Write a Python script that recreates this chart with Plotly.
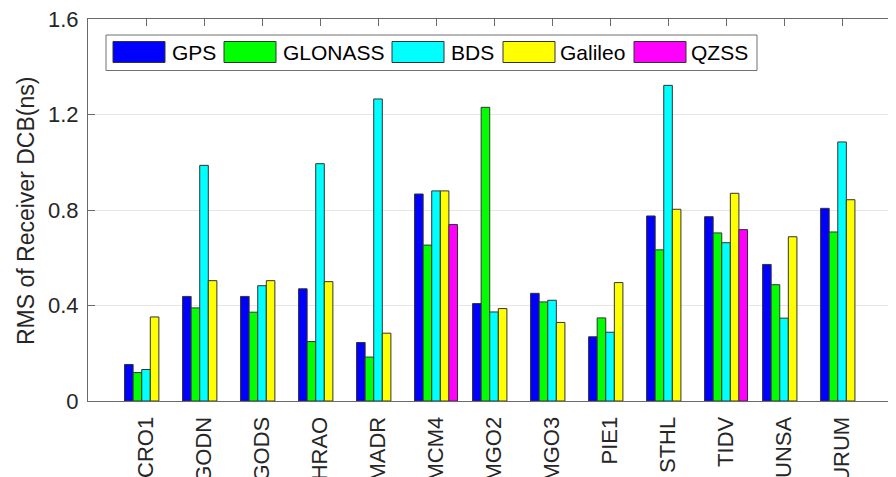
import plotly.graph_objects as go

stations = ["CRO1", "GODN", "GODS", "HRAO", "MADR", "MCM4", "MGO2", "MGO3",
            "PIE1", "STHL", "TIDV", "UNSA", "URUM"]
gps = [0.153, 0.438, 0.438, 0.470, 0.245, 0.867, 0.408, 0.451, 0.269, 0.775, 0.772, 0.572, 0.807]
glonass = [0.119, 0.390, 0.372, 0.249, 0.184, 0.653, 1.230, 0.415, 0.348, 0.633, 0.704, 0.487, 0.708]
bds = [0.132, 0.987, 0.483, 0.994, 1.265, 0.880, 0.373, 0.422, 0.288, 1.322, 0.663, 0.347, 1.085]
galileo = [0.352, 0.504, 0.504, 0.500, 0.284, 0.880, 0.387, 0.329, 0.496, 0.803, 0.870, 0.688, 0.843]
qzss = [None, None, None, None, None, 0.739, None, None, None, None, 0.718, None, None]

series_names = ["GPS", "GLONASS", "BDS", "Galileo", "QZSS"]
series_values = [gps, glonass, bds, galileo, qzss]
series_colors = ["#0000FF", "#00FF00", "#00FFFF", "#FFFF00", "#FF00FF"]

y_ticks = [0, 0.4, 0.8, 1.2, 1.6]
y_ticklabels = ["0", "0.4", "0.8", "1.2", "1.6"]

# page body has an 8px margin; compensate so the figure fills the window
OFF = 8
W, H = 896 - OFF, 477 - OFF
ML, MR, MT, MB = 88 - OFF, 0, 19 - OFF, 76
PW = W - ML - MR
PH = H - MT - MB


def px_x(px):
    # px in window coordinates
    return (px - OFF - ML) / PW


def px_y(py):
    return (H - MB - (py - OFF)) / PH


FONT = "Liberation Sans, Arial, Helvetica, sans-serif"

fig = go.Figure()
for name, vals, col in zip(series_names, series_values, series_colors):
    fig.add_trace(go.Bar(
        x=stations, y=vals, name=name,
        marker=dict(color=col, line=dict(color="#333333", width=1)),
        showlegend=False,
    ))

# custom legend (MATLAB style)
shapes = []
annotations = []
shapes.append(dict(type="rect", xref="paper", yref="paper",
                   x0=px_x(106), x1=px_x(757), y0=px_y(70.5), y1=px_y(35),
                   line=dict(color="#707070", width=1), fillcolor="white", layer="above"))
sw_x = [113, 224, 392, 503, 634]
tx_x = [170, 281, 449, 558, 689]
for name, col, sx, tx in zip(series_names, series_colors, sw_x, tx_x):
    shapes.append(dict(type="rect", xref="paper", yref="paper",
                       x0=px_x(sx), x1=px_x(sx + 52), y0=px_y(62.5), y1=px_y(41.5),
                       line=dict(color="#333333", width=1), fillcolor=col, layer="above"))
    annotations.append(dict(xref="paper", yref="paper", x=px_x(tx), y=px_y(52.5),
                            text=name, showarrow=False, xanchor="left", yanchor="middle",
                            font=dict(family=FONT, size=21, color="black")))

annotations.append(dict(xref="paper", yref="paper", x=px_x(26), y=px_y(211),
                        text="RMS of Receiver DCB(ns)", showarrow=False, textangle=-90,
                        xanchor="center", yanchor="middle",
                        font=dict(family=FONT, size=23, color="#262626")))

fig.update_layout(
    width=W, height=H,
    margin=dict(l=ML, r=MR, t=MT, b=MB, autoexpand=False),
    paper_bgcolor="white", plot_bgcolor="white",
    barmode="group", bargap=0.26, bargroupgap=0,
    shapes=shapes, annotations=annotations,
    font=dict(family=FONT, color="#262626"),
)
fig.update_xaxes(
    range=[-1, 12.93], type="category",
    showline=True, linecolor="#6a6a6a", linewidth=1, mirror="ticks",
    ticks="inside", ticklen=7, tickcolor="#6a6a6a",
    tickangle=-90, tickfont=dict(family=FONT, size=22, color="#262626"),
    ticklabelstandoff=6, ticklabeloverflow="allow",
    showgrid=False, zeroline=False, layer="below traces",
)
fig.update_yaxes(
    range=[0, 1.6], tickvals=y_ticks, ticktext=y_ticklabels,
    showline=True, linecolor="#6a6a6a", linewidth=1, mirror="ticks",
    ticks="inside", ticklen=7, tickcolor="#6a6a6a",
    tickfont=dict(family=FONT, size=22, color="#262626"),
    ticklabelstandoff=4, ticklabeloverflow="allow",
    showgrid=True, gridcolor="#e6e6e6", gridwidth=1, zeroline=False,
)

fig.write_html("out.html")
